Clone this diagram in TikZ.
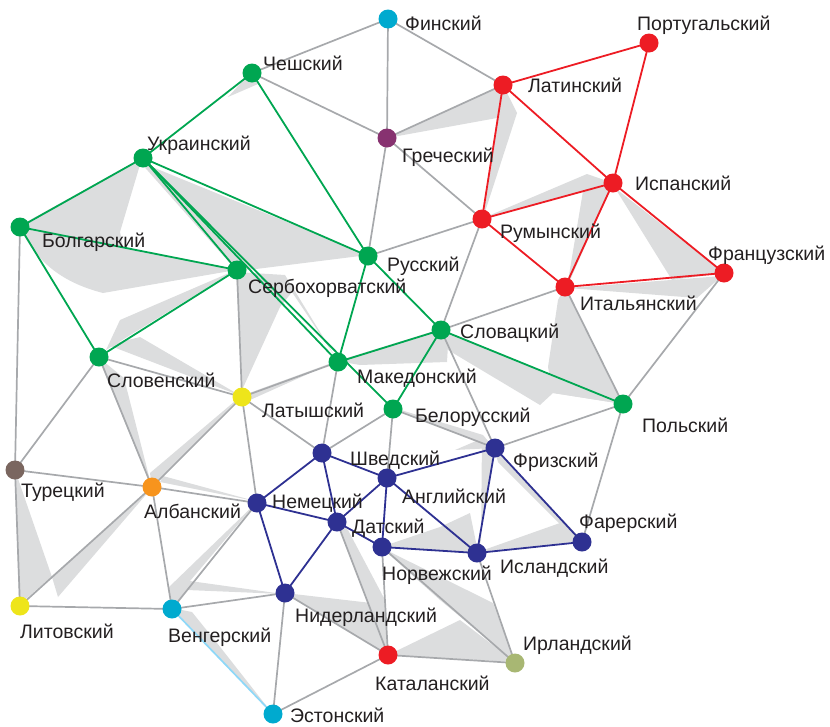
\documentclass[tikz,border=0pt]{standalone}
\usepackage{fontspec}
\setmainfont{Liberation Sans}
\definecolor{cgreen}{HTML}{00A651}
\definecolor{cred}{HTML}{ED1C24}
\definecolor{cnavy}{HTML}{2E3192}
\definecolor{ccyan}{HTML}{00AACF}
\definecolor{cpurple}{HTML}{873270}
\definecolor{cyellow}{HTML}{EEE51A}
\definecolor{cbrown}{HTML}{7A665F}
\definecolor{corange}{HTML}{F7941D}
\definecolor{colive}{HTML}{A8B773}
\definecolor{eline}{HTML}{A7A9AC}
\definecolor{wedge}{HTML}{DCDDDE}
\definecolor{lblue}{HTML}{8ED8F8}
\definecolor{txt}{HTML}{231F20}
\tikzset{
  dot/.style={circle, inner sep=0pt, minimum size=19pt, draw=none},
  ge/.style={draw=eline, line width=1.7pt},
  ce/.style={line width=1.8pt},
  lab/.style={anchor=base west, inner sep=0pt, text=txt, font=\fontsize{19.5}{22}\selectfont},
  wd/.style={fill=wedge, draw=none}
}
\begin{document}
\begin{tikzpicture}[x=1pt,y=-1pt]
\useasboundingbox (0,0) rectangle (830,726);
% node positions
\path
 (388,19) coordinate (p-fi) (649,43) coordinate (p-pt) (252,73) coordinate (p-cz)
 (503,85) coordinate (p-la) (387,138) coordinate (p-gr) (143,158) coordinate (p-uk)
 (613,183) coordinate (p-es) (482,219) coordinate (p-ro) (20,227) coordinate (p-bg)
 (368,256) coordinate (p-ru) (237,270) coordinate (p-sh) (724,273) coordinate (p-fr)
 (565,287) coordinate (p-it) (441,330) coordinate (p-sk) (338,362) coordinate (p-mk)
 (99,357) coordinate (p-sl) (242,397) coordinate (p-lv) (393,409) coordinate (p-be)
 (623,404) coordinate (p-pl) (322,453) coordinate (p-sv) (495,448) coordinate (p-fy)
 (15,470) coordinate (p-tr) (152,487) coordinate (p-sq) (257,503) coordinate (p-de)
 (387,478) coordinate (p-en) (337,522) coordinate (p-da) (582,542) coordinate (p-fo)
 (382,547) coordinate (p-no) (477,553) coordinate (p-is) (20,606) coordinate (p-lt)
 (172,609) coordinate (p-hu) (285,593) coordinate (p-nl) (515,663) coordinate (p-ga)
 (388,655) coordinate (p-ca) (273,714) coordinate (p-et);

% gray wedges
\fill[wd] (387,138) -- (503,85) -- (517,113) -- (483,218) -- (497,118) -- cycle;
\fill[wd] (481,219) -- (587,174) -- (613,183) -- cycle;
\fill[wd] (583,191) -- (613,183) -- (567,287) -- cycle;
\fill[wd] (615,188) -- (672,280) -- (724,273) -- cycle;
\fill[wd] (568,288) -- (697,298) -- (722,276) -- cycle;
\fill[wd] (565,287) -- (558,300) -- (548,367) -- (553,393) -- (623,404) -- cycle;
\fill[wd] (441,329) -- (448,350) -- (540,405) -- (553,393) -- (623,404) -- cycle;
\fill[wd] (337,361) -- (441,329) -- (448,345) -- (447,362) -- (360,365) -- cycle;
\fill[wd] (391,407) -- (483,435) -- (494,448) -- (455,450) -- (476,441) -- cycle;
\fill[wd] (482,436) -- (494,448) -- (478,552) -- (481,540) -- cycle;
\fill[wd] (494,448) -- (583,541) -- (572,536) -- (498,462) -- cycle;
\fill[wd] (478,552) -- (560,523) -- (583,541) -- cycle;
\fill[wd] (381,547) -- (440,527) -- (470,513) -- (478,552) -- cycle;
\fill[wd] (382,548) -- (493,603) -- (515,662) -- (440,600) -- cycle;
\fill[wd] (388,655) -- (460,620) -- (515,662) -- cycle;
\fill[wd] (337,522) -- (348,530) -- (385,600) -- (388,655) -- cycle;
\fill[wd] (285,593) -- (380,604) -- (388,655) -- cycle;
\fill[wd] (257,502) -- (168,588) -- (172,608) -- (187,590) -- (283,594) -- (190,581) -- cycle;
\fill[wd] (172,608) -- (192,612) -- (217,643) -- (272,713) -- cycle;
\fill[wd] (152,488) -- (150,473) -- (241,396) -- cycle;
\fill[wd] (163,476) -- (255,501) -- (160,482) -- cycle;
\fill[wd] (106,350) -- (120,320) -- (236,270) -- cycle;
\fill[wd] (108,345) -- (140,337) -- (241,396) -- cycle;
\fill[wd] (98,357) -- (124,378) -- (152,488) -- cycle;
\fill[wd] (19,226) -- (142,158) -- (120,232) -- (123,247) -- (236,270) -- (103,293) .. controls (60,282) and (35,260) .. (19,226) -- cycle;
\fill[wd] (140,162) -- (368,255) -- (256,269) -- (236,270) -- cycle;
\fill[wd] (236,272) -- (242,390) -- (280,307) -- (292,292) -- (336,358) -- (285,275) -- cycle;
\fill[wd] (15,470) -- (52,577) -- (58,597) -- (150,490) -- (19,605) -- cycle;
\fill[wd] (251,72) -- (258,84) -- (228,97) -- cycle;
\fill[wd] (241,396) -- (337,361) -- (250,400) -- cycle;

% dots (named nodes)
\foreach \n in {fi, pt, cz, la, gr, uk, es, ro, bg, ru, sh, fr, it, sk, mk, sl, lv, be,
  pl, sv, fy, tr, sq, de, en, da, fo, no, is, lt, hu, nl, ga, ca, et}
  \node[dot] (\n) at (p-\n) {};

% gray edges
\foreach \a/\b in {fi/cz, fi/gr, fi/la, cz/gr, gr/la, gr/ru, gr/ro, ru/ro,
  ro/sk, it/sk, it/pl, fr/pl, sk/fy, pl/fy, pl/fo, be/fy, be/sv, be/en,
  mk/lv, mk/sv, lv/sl, lv/sh, lv/sv, lv/de, lv/sq, sl/tr, sl/sq, bg/tr,
  tr/sq, tr/lt, lt/sq, lt/hu, sq/de, sq/hu, hu/de, hu/nl, nl/et, et/ca,
  nl/ca, da/ca, no/ca, no/ga, is/ga, ca/ga}
  \draw[ge] (\a.center) -- (\b.center);
\draw[draw=lblue, line width=1.7pt] (hu.center) -- (et.center);

% green edges
\foreach \a/\b in {cz/uk, cz/ru, uk/bg, uk/ru, uk/sh, uk/mk, uk/be, bg/sh,
  bg/sl, sh/sl, ru/mk, ru/sk, sk/mk, sk/be, sk/pl}
  \draw[ce, cgreen] (\a.center) -- (\b.center);
% red edges
\foreach \a/\b in {la/pt, la/es, la/ro, pt/es, es/ro, es/it, es/fr, ro/it, it/fr}
  \draw[ce, cred] (\a.center) -- (\b.center);
% navy edges
\foreach \a/\b in {sv/de, sv/en, sv/da, de/da, de/nl, da/nl, da/en, da/no,
  en/fy, en/no, en/is, fy/is, fy/fo, no/is, is/fo}
  \draw[ce, cnavy] (\a.center) -- (\b.center);

% dot fills on top
\foreach \n/\c in {fi/ccyan, pt/cred, cz/cgreen, la/cred, gr/cpurple, uk/cgreen,
  es/cred, ro/cred, bg/cgreen, ru/cgreen, sh/cgreen, fr/cred, it/cred, sk/cgreen,
  mk/cgreen, sl/cgreen, lv/cyellow, be/cgreen, pl/cgreen, sv/cnavy, fy/cnavy,
  tr/cbrown, sq/corange, de/cnavy, en/cnavy, da/cnavy, fo/cnavy, no/cnavy,
  is/cnavy, lt/cyellow, hu/ccyan, nl/cnavy, ga/colive, ca/cred, et/ccyan}
  \fill[\c] (\n.center) circle (9.5pt);

% labels
\node[lab] (l-fi) at (405,30) {Финский};
\node[lab] (l-pt) at (637,30) {Португальский};
\node[lab] (l-cz) at (263,70) {Чешский};
\node[lab] (l-la) at (528,92) {Латинский};
\node[lab] (l-gr) at (402,162) {Греческий};
\node[lab] (l-uk) at (147,150) {Украинский};
\node[lab] (l-es) at (635,190) {Испанский};
\node[lab] (l-ro) at (500,238) {Румынский};
\node[lab] (l-bg) at (42,247) {Болгарский};
\node[lab] (l-ru) at (387,271) {Русский};
\node[lab] (l-sh) at (248,293) {Сербохорватский};
\node[lab] (l-fr) at (708,260) {Французский};
\node[lab] (l-it) at (580,310) {Итальянский};
\node[lab] (l-sk) at (460,338) {Словацкий};
\node[lab] (l-sl) at (107,387) {Словенский};
\node[lab] (l-mk) at (357,383) {Македонский};
\node[lab] (l-lv) at (262,417) {Латышский};
\node[lab] (l-be) at (415,422) {Белорусский};
\node[lab] (l-pl) at (642,432) {Польский};
\node[lab] (l-sv) at (350,465) {Шведский};
\node[lab] (l-fy) at (513,467) {Фризский};
\node[lab] (l-tr) at (21,497) {Турецкий};
\node[lab] (l-sq) at (144,518) {Албанский};
\node[lab] (l-de) at (272,508) {Немецкий};
\node[lab] (l-en) at (402,503) {Английский};
\node[lab] (l-da) at (352,533) {Датский};
\node[lab] (l-fo) at (579,528) {Фарерский};
\node[lab] (l-no) at (382,580) {Норвежский};
\node[lab] (l-is) at (500,573) {Исландский};
\node[lab] (l-lt) at (20,638) {Литовский};
\node[lab] (l-hu) at (168,642) {Венгерский};
\node[lab] (l-nl) at (295,622) {Нидерландский};
\node[lab] (l-ga) at (523,650) {Ирландский};
\node[lab] (l-ca) at (375,690) {Каталанский};
\node[lab] (l-et) at (290,722) {Эстонский};
\end{tikzpicture}
\end{document}
